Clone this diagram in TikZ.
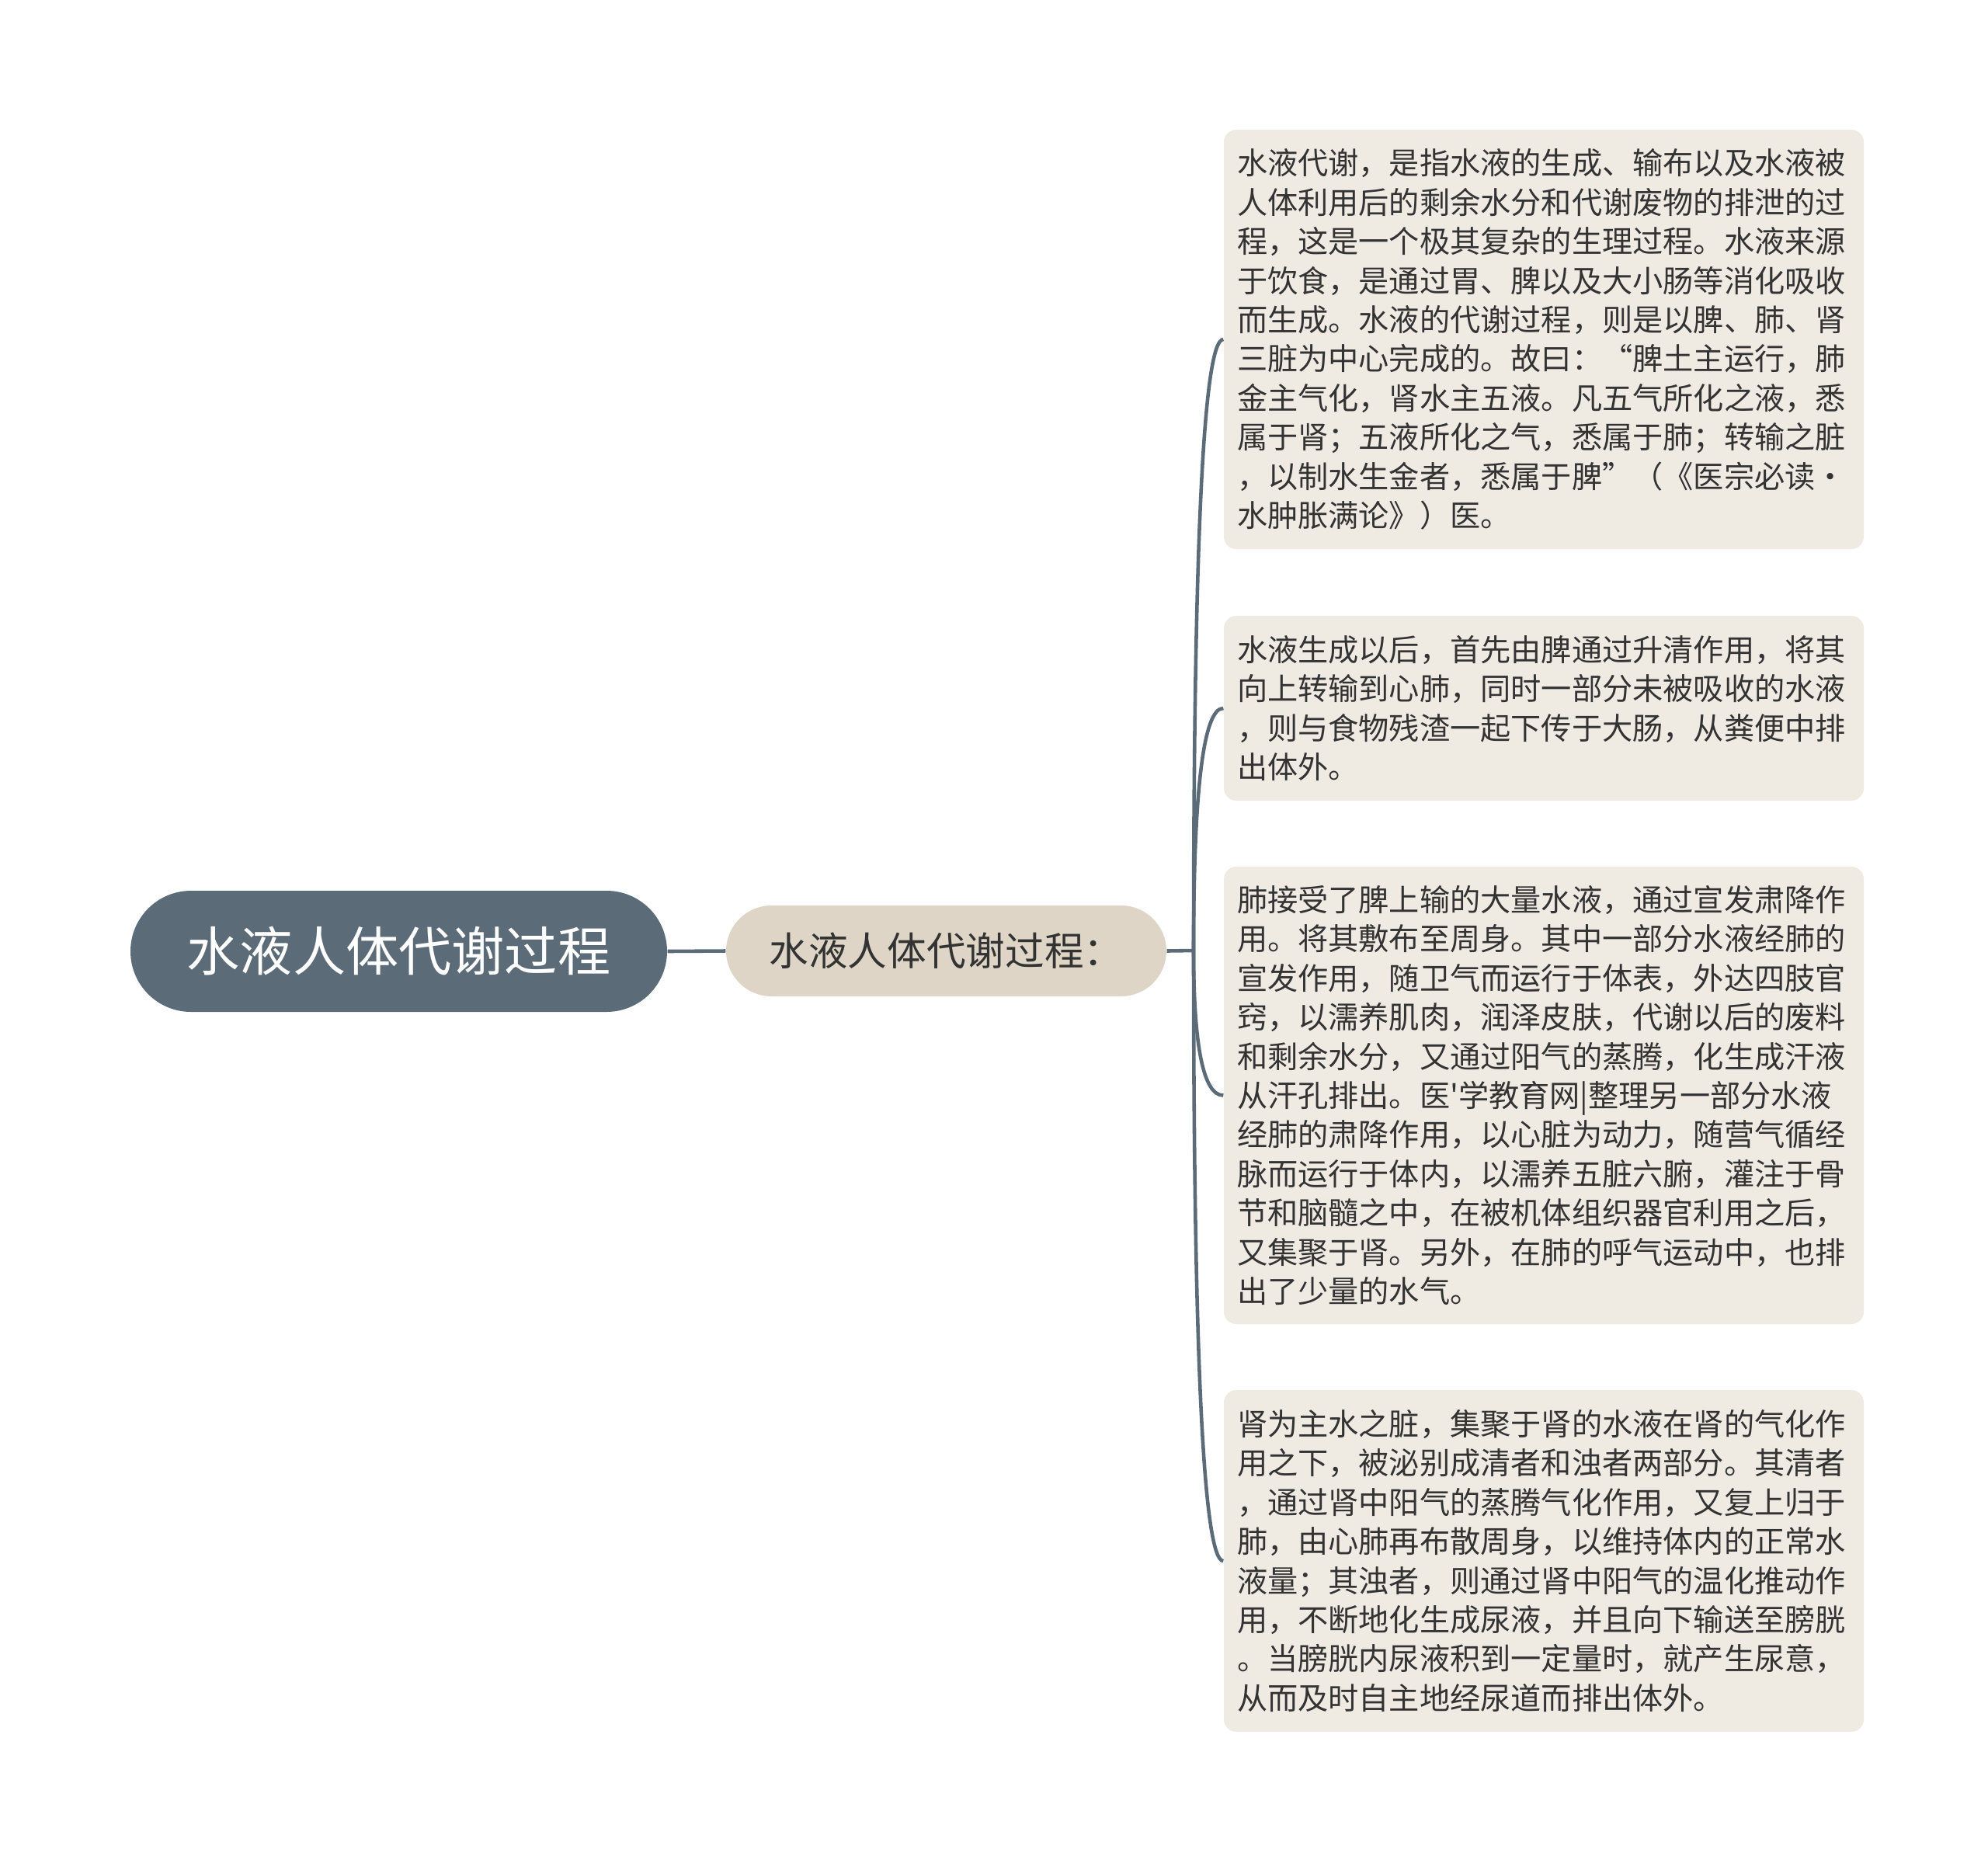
\documentclass[tikz,border=0pt]{standalone}
\usepackage{fontspec}
\setmainfont{Noto Sans CJK SC}
\usetikzlibrary{calc}
\definecolor{slate}{HTML}{5B6C78}
\definecolor{sand}{HTML}{DED5C6}
\definecolor{paper}{HTML}{EFEBE3}
\definecolor{ink}{HTML}{333333}

\begin{document}
\begin{tikzpicture}[
  rootbox/.style={fill=slate,text=white,rounded corners=0.78cm,minimum width=6.91cm,minimum height=1.56cm,inner sep=0pt,font=\fontsize{19.4}{23}\selectfont},
  subbox/.style={fill=sand,text=ink,rounded corners=0.585cm,minimum width=5.67cm,minimum height=1.17cm,inner sep=0pt,font=\fontsize{14.4}{17}\selectfont},
  leafbox/.style={fill=paper,text=ink,rounded corners=0.16cm,minimum width=8.24cm,text width=7.90cm,inner xsep=0.17cm,inner ysep=0pt,align=left,font=\fontsize{11.15}{14.34}\selectfont},
  branch/.style={draw=slate,line width=1.3pt}
]
\useasboundingbox (0,0) rectangle (25.60,-23.98);

\coordinate (J) at (15.37,-12.24);

\node[rootbox] (root) at (5.135,-12.25) {水液人体代谢过程};
\node[subbox] (sub) at (12.185,-12.245) {水液人体代谢过程：};

\node[leafbox,minimum height=5.40cm] (leaf1) at (19.88,-4.37) {%
水液代谢，是指水液的生成、输布以及水液被\\
人体利用后的剩余水分和代谢废物的排泄的过\\
程，这是一个极其复杂的生理过程。水液来源\\
于饮食，是通过胃、脾以及大小肠等消化吸收\\
而生成。水液的代谢过程，则是以脾、肺、肾\\
三脏为中心完成的。故曰：“脾土主运行，肺\\
金主气化，肾水主五液。凡五气所化之液，悉\\
属于肾；五液所化之气，悉属于肺；转输之脏\\
，以制水生金者，悉属于脾”（《医宗必读·\\
水肿胀满论》）医。};

\node[leafbox,minimum height=2.38cm] (leaf2) at (19.88,-9.12) {%
水液生成以后，首先由脾通过升清作用，将其\\
向上转输到心肺，同时一部分未被吸收的水液\\
，则与食物残渣一起下传于大肠，从粪便中排\\
出体外。};

\node[leafbox,minimum height=5.89cm] (leaf3) at (19.88,-14.105) {%
肺接受了脾上输的大量水液，通过宣发肃降作\\
用。将其敷布至周身。其中一部分水液经肺的\\
宣发作用，随卫气而运行于体表，外达四肢官\\
窍，以濡养肌肉，润泽皮肤，代谢以后的废料\\
和剩余水分，又通过阳气的蒸腾，化生成汗液\\
从汗孔排出。医\textquotesingle 学教育网|整理另一部分水液\\
经肺的肃降作用，以心脏为动力，随营气循经\\
脉而运行于体内，以濡养五脏六腑，灌注于骨\\
节和脑髓之中，在被机体组织器官利用之后，\\
又集聚于肾。另外，在肺的呼气运动中，也排\\
出了少量的水气。};

\node[leafbox,minimum height=4.40cm] (leaf4) at (19.88,-20.10) {%
肾为主水之脏，集聚于肾的水液在肾的气化作\\
用之下，被泌别成清者和浊者两部分。其清者\\
，通过肾中阳气的蒸腾气化作用，又复上归于\\
肺，由心肺再布散周身，以维持体内的正常水\\
液量；其浊者，则通过肾中阳气的温化推动作\\
用，不断地化生成尿液，并且向下输送至膀胱\\
。当膀胱内尿液积到一定量时，就产生尿意，\\
从而及时自主地经尿道而排出体外。};

\draw[branch] (root.east) -- (sub.west);
\draw[branch] (sub.east) -- (J);
\foreach \n in {leaf1,leaf2,leaf3,leaf4}
  \draw[branch] (J) .. controls ($(J)!0.667!(J|-\n.west)$) and ($(\n.west)!0.667!(J|-\n.west)$) .. (\n.west);

\end{tikzpicture}
\end{document}
